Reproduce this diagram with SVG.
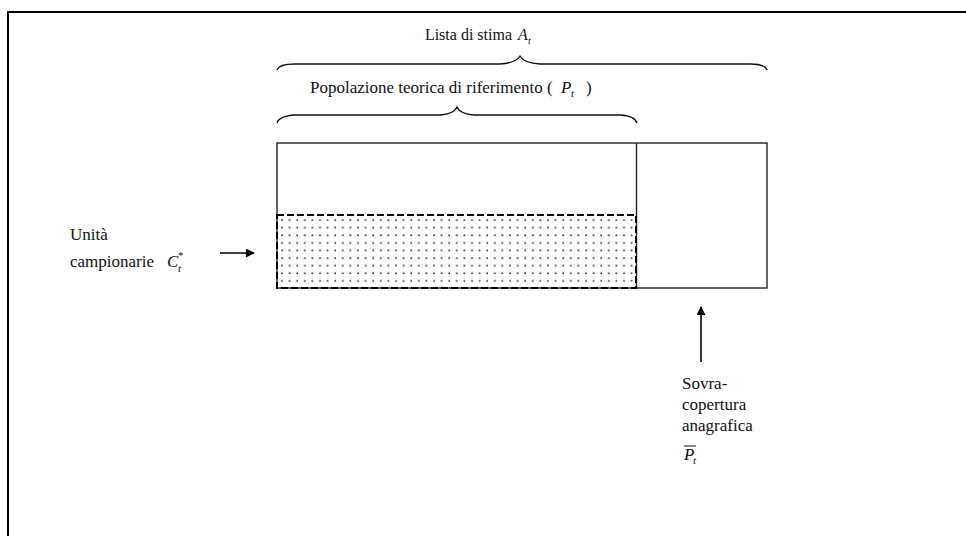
<svg xmlns="http://www.w3.org/2000/svg" width="966" height="536" viewBox="0 0 966 536">
<style>
text{font-family:"Liberation Serif","Times New Roman",serif;font-size:17px;fill:#111}
.it{font-style:italic}
.sub{font-size:11px;font-style:italic}
.br{fill:none;stroke:#111;stroke-width:1.3}
.box{fill:none;stroke:#222;stroke-width:1.4}
.ar{stroke:#000;stroke-width:1.6;fill:none}
</style>
<defs>
<pattern id="dots" width="7.6" height="7.6" patternUnits="userSpaceOnUse" x="279" y="217">
<circle cx="3" cy="3" r="0.95" fill="#333"/>
</pattern>
<marker id="ah" viewBox="0 0 10 10" refX="9" refY="5" markerWidth="10" markerHeight="9" markerUnits="userSpaceOnUse" orient="auto">
<path d="M0,0 L10,5 L0,10 z" fill="#000"/>
</marker>
</defs>
<path d="M8,536 L8,12 L966,12" fill="none" stroke="#000" stroke-width="2"/>
<g id="lista">
<path class="br" d="M277,70 Q279,64 295,64 L500,64 Q516,63 520,56 Q524,63 540,64 L750,64 Q765,64 767,70"/>
<text x="512" y="40" text-anchor="end" style="font-size:16px">Lista di stima</text>
<text x="518" y="40" class="it" style="font-size:16px">A</text><text x="528" y="44" class="sub" style="font-size:10px">t</text>
</g>
<g id="popolazione">
<path class="br" d="M277,123 Q279,116 295,115 L440,115 Q454,114 457,107 Q460,114 474,115 L620,115 Q635,116 637,123"/>
<text x="310" y="93">Popolazione teorica di riferimento (</text>
<text x="561" y="93" class="it">P</text><text x="571" y="97" class="sub">t</text>
<text x="586" y="93">)</text>
</g>
<g id="lista-box">
<rect class="box" x="277" y="143" width="490" height="145"/>
<line class="box" x1="636.5" y1="143" x2="636.5" y2="288"/>
</g>
<g id="campione">
<rect x="277" y="215" width="359" height="73" fill="url(#dots)" stroke="#000" stroke-width="2" stroke-dasharray="7,3"/>
</g>
<g id="unita">
<text x="70" y="240">Unità</text>
<text x="70" y="267">campionarie</text>
<text x="167" y="267" class="it">C</text><text x="178" y="259" style="font-size:11px">*</text><text x="178" y="272" class="sub">t</text>
</g>
<g id="sovracopertura">
<text x="682" y="389">Sovra-</text>
<text x="682" y="410">copertura</text>
<text x="682" y="431">anagrafica</text>
<text x="684" y="460" class="it">P</text><text x="693" y="464" class="sub">t</text>
<line x1="684" y1="446" x2="696" y2="446" stroke="#111" stroke-width="1"/>
</g>
<g id="connectors">
<line class="ar" x1="220" y1="253" x2="254" y2="253" marker-end="url(#ah)"/>
<line class="ar" x1="701" y1="362" x2="701" y2="307" marker-end="url(#ah)"/>
</g>
</svg>
